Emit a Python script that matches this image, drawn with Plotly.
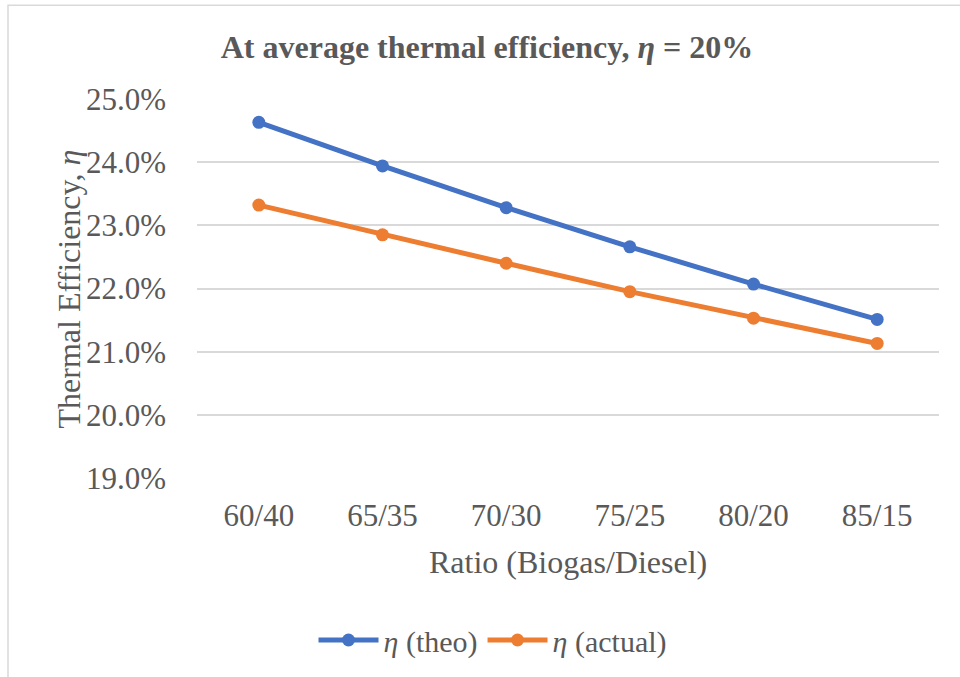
import plotly.graph_objects as go

categories = ["60/40", "65/35", "70/30", "75/25", "80/20", "85/15"]
eta_theo = [0.2463, 0.2394, 0.2328, 0.2266, 0.2207, 0.2151]
eta_actual = [0.2332, 0.2285, 0.2240, 0.2195, 0.2153, 0.2113]

BLUE = "#4472C4"
ORANGE = "#ED7D31"
TXT = "#595959"
FONT = "Liberation Serif"

L, R, T, B = 197, 21, 99, 198
W, H = 960, 677
pw = W - L - R
ph = H - T - B

def px_x(px):
    return (px - L) / pw

def px_y(py):
    return (H - B - py) / ph

fig = go.Figure()
fig.add_trace(go.Scatter(x=categories, y=eta_theo, mode="lines+markers",
                         name="<i>η</i> (theo)",
                         line=dict(color=BLUE, width=5),
                         marker=dict(color=BLUE, size=13)))
fig.add_trace(go.Scatter(x=categories, y=eta_actual, mode="lines+markers",
                         name="<i>η</i> (actual)",
                         line=dict(color=ORANGE, width=5),
                         marker=dict(color=ORANGE, size=13)))

fig.update_layout(
    width=W, height=H,
    margin=dict(l=L, r=R, t=T, b=B),
    paper_bgcolor="white", plot_bgcolor="white",
    font=dict(family=FONT, color=TXT, size=30),
    title=dict(text="<b>At average thermal efficiency, <i>η</i> = 20%</b>",
               x=487 / W, xref="container", xanchor="center",
               y=1 - 47 / H, yref="container", yanchor="middle",
               font=dict(family=FONT, size=32, color=TXT)),
    xaxis=dict(type="category", range=[-0.5, 5.5], showgrid=False,
               showline=False, zeroline=False, ticks="",
               ticklabelstandoff=16,
               tickfont=dict(family=FONT, size=31, color=TXT)),
    yaxis=dict(range=[0.19, 0.25], dtick=0.01, tickformat=".1%",
               showgrid=True, gridcolor="#d9d9d9", gridwidth=1.5,
               zeroline=False, showline=False, ticks="",
               ticklabelstandoff=30,
               tickfont=dict(family=FONT, size=31, color=TXT)),
    legend=dict(orientation="h", x=px_x(493), xanchor="center",
                y=px_y(640), yanchor="middle",
                font=dict(family=FONT, size=30, color=TXT),
                itemwidth=60, tracegroupgap=0),
    showlegend=True,
)

fig.add_annotation(text="Ratio (Biogas/Diesel)", xref="paper", yref="paper",
                   x=px_x(568), y=px_y(563), xanchor="center", yanchor="middle",
                   showarrow=False, font=dict(family=FONT, size=32, color=TXT))
fig.add_annotation(text="Thermal Efficiency, <i>η</i>", xref="paper", yref="paper",
                   x=px_x(69), y=px_y(290), xanchor="center", yanchor="middle",
                   textangle=-90, showarrow=False,
                   font=dict(family=FONT, size=32, color=TXT))

fig.add_shape(type="rect", xref="paper", yref="paper",
              x0=px_x(8), y0=px_y(760), x1=px_x(1000), y1=px_y(5),
              line=dict(color="#d9d9d9", width=1.5), fillcolor="rgba(0,0,0,0)",
              layer="below")

fig.write_html("out.html")
